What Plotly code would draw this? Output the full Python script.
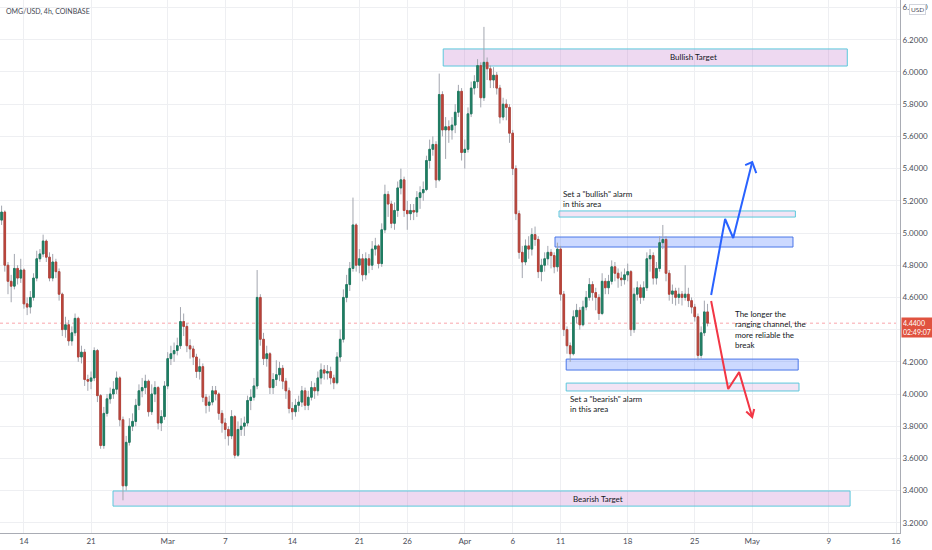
import plotly.graph_objects as go
import pandas as pd

first_open = 5.08
closes = [
    5.13, 4.80, 4.70, 4.67, 4.78, 4.72, 4.77, 4.56, 4.54, 4.60,
    4.72, 4.84, 4.87, 4.95, 4.85, 4.72, 4.82, 4.76, 4.62, 4.40,
    4.43, 4.33, 4.38, 4.47, 4.23, 4.26, 4.09, 4.08, 4.10, 4.27,
    3.99, 3.68, 3.88, 3.97, 4.00, 4.03, 4.10, 3.84, 3.43, 3.70,
    3.80, 3.83, 3.93, 4.02, 4.04, 4.08, 3.89, 4.00, 4.04, 3.82,
    3.86, 4.05, 4.22, 4.25, 4.27, 4.30, 4.45, 4.42, 4.30, 4.28,
    4.23, 4.14, 4.17, 3.98, 3.93, 3.95, 4.02, 4.00, 3.88, 3.82,
    3.78, 3.74, 3.86, 3.62, 3.78, 3.80, 3.82, 3.96, 3.98, 4.05,
    4.60, 4.34, 4.22, 4.25, 4.04, 4.09, 4.12, 4.16, 4.08, 4.02,
    3.91, 3.89, 3.93, 3.95, 4.02, 3.93, 3.98, 4.04, 4.02, 4.10,
    4.15, 4.13, 4.14, 4.10, 4.07, 4.23, 4.34, 4.60, 4.68, 4.78,
    5.05, 4.80, 4.84, 4.74, 4.84, 4.80, 4.90, 4.92, 4.81, 5.02,
    5.24, 5.18, 5.06, 5.14, 5.28, 5.33, 5.14, 5.12, 5.14, 5.13,
    5.22, 5.25, 5.27, 5.45, 5.52, 5.55, 5.33, 5.86, 5.64, 5.66,
    5.64, 5.67, 5.75, 5.88, 5.50, 5.52, 5.74, 5.90, 5.94, 6.04,
    5.84, 6.06, 6.02, 5.95, 5.98, 5.90, 5.72, 5.80, 5.78, 5.62,
    5.40, 5.12, 4.88, 4.82, 4.92, 4.90, 4.99, 4.96, 4.76, 4.80,
    4.84, 4.88, 4.86, 4.79, 4.90, 4.62, 4.40, 4.30, 4.25, 4.48,
    4.52, 4.43, 4.54, 4.60, 4.68, 4.63, 4.60, 4.50, 4.70, 4.66,
    4.70, 4.79, 4.75, 4.72, 4.71, 4.74, 4.76, 4.40, 4.62, 4.66,
    4.60, 4.66, 4.84, 4.86, 4.72, 4.78, 4.94, 4.96, 4.75, 4.62,
    4.64, 4.60, 4.62, 4.60, 4.62, 4.58, 4.54, 4.48, 4.24, 4.38,
    4.51, 4.44,
]
highs = [
    5.17, 5.14, 4.82, 4.74, 4.87, 4.80, 4.84, 4.78, 4.60, 4.64,
    4.75, 4.89, 4.90, 4.99, 4.96, 4.88, 4.87, 4.84, 4.78, 4.63,
    4.48, 4.46, 4.42, 4.50, 4.48, 4.30, 4.28, 4.12, 4.14, 4.29,
    4.28, 4.00, 3.92, 4.00, 4.04, 4.08, 4.14, 4.11, 3.86, 3.74,
    3.85, 3.88, 3.97, 4.06, 4.10, 4.12, 4.09, 4.06, 4.08, 4.05,
    3.90, 4.08, 4.26, 4.30, 4.32, 4.35, 4.54, 4.50, 4.44, 4.34,
    4.30, 4.25, 4.22, 4.19, 4.00, 3.99, 4.05, 4.05, 4.01, 3.90,
    3.85, 3.80, 3.90, 3.87, 3.83, 3.85, 3.86, 3.99, 4.03, 4.10,
    4.77, 4.62, 4.38, 4.30, 4.26, 4.13, 4.21, 4.20, 4.18, 4.10,
    4.04, 3.95, 3.97, 3.99, 4.05, 4.04, 4.02, 4.08, 4.07, 4.14,
    4.19, 4.18, 4.18, 4.17, 4.12, 4.26, 4.40, 4.65, 4.74, 4.82,
    5.22, 5.06, 4.90, 4.87, 4.88, 4.87, 4.95, 4.97, 4.93, 5.06,
    5.30, 5.26, 5.20, 5.19, 5.32, 5.40, 5.35, 5.20, 5.18, 5.18,
    5.26, 5.29, 5.32, 5.48, 5.58, 5.60, 5.57, 5.99, 5.88, 5.72,
    5.70, 5.72, 5.80, 5.92, 5.90, 5.58, 5.78, 5.94, 5.98, 6.08,
    6.06, 6.28, 6.09, 6.04, 6.03, 6.00, 5.92, 5.84, 5.83, 5.80,
    5.64, 5.42, 5.14, 4.92, 4.96, 4.98, 5.03, 5.04, 4.98, 4.84,
    4.88, 4.92, 4.90, 4.88, 4.94, 4.92, 4.64, 4.42, 4.32, 4.52,
    4.56, 4.54, 4.58, 4.64, 4.72, 4.70, 4.66, 4.62, 4.75, 4.72,
    4.74, 4.83, 4.82, 4.78, 4.76, 4.78, 4.81, 4.77, 4.66, 4.70,
    4.68, 4.70, 4.88, 4.90, 4.88, 4.82, 4.98, 5.05, 4.98, 4.77,
    4.68, 4.66, 4.66, 4.64, 4.80, 4.66, 4.60, 4.56, 4.50, 4.42,
    4.58, 4.56,
]
lows = [
    5.05, 4.76, 4.62, 4.57, 4.65, 4.68, 4.69, 4.53, 4.49, 4.50,
    4.58, 4.70, 4.82, 4.85, 4.82, 4.70, 4.70, 4.72, 4.58, 4.36,
    4.35, 4.30, 4.30, 4.36, 4.20, 4.19, 4.05, 4.02, 4.03, 4.08,
    3.95, 3.66, 3.66, 3.86, 3.94, 3.97, 4.00, 3.80, 3.34, 3.40,
    3.68, 3.77, 3.80, 3.90, 3.98, 4.00, 3.86, 3.87, 3.95, 3.78,
    3.77, 3.84, 4.03, 4.18, 4.20, 4.24, 4.28, 4.36, 4.26, 4.22,
    4.18, 4.10, 4.09, 3.95, 3.88, 3.89, 3.93, 3.96, 3.84, 3.76,
    3.72, 3.68, 3.72, 3.60, 3.61, 3.74, 3.74, 3.80, 3.90, 3.96,
    4.03, 4.30, 4.18, 4.17, 4.00, 4.00, 4.05, 4.08, 4.03, 3.97,
    3.88, 3.84, 3.86, 3.89, 3.92, 3.90, 3.90, 3.96, 3.97, 3.99,
    4.06, 4.09, 4.09, 4.06, 4.03, 4.06, 4.20, 4.32, 4.57, 4.64,
    4.76, 4.76, 4.75, 4.70, 4.71, 4.75, 4.77, 4.86, 4.78, 4.79,
    5.00, 5.10, 5.03, 5.02, 5.10, 5.24, 5.10, 5.02, 5.08, 5.08,
    5.10, 5.15, 5.20, 5.26, 5.40, 5.48, 5.28, 5.32, 5.60, 5.46,
    5.56, 5.58, 5.62, 5.72, 5.45, 5.40, 5.50, 5.72, 5.86, 5.90,
    5.78, 5.82, 5.95, 5.90, 5.90, 5.86, 5.68, 5.70, 5.70, 5.56,
    5.36, 5.08, 4.84, 4.72, 4.80, 4.84, 4.86, 4.92, 4.72, 4.70,
    4.76, 4.80, 4.78, 4.75, 4.76, 4.58, 4.36, 4.25, 4.20, 4.24,
    4.44, 4.40, 4.42, 4.52, 4.58, 4.58, 4.52, 4.46, 4.49, 4.62,
    4.62, 4.68, 4.70, 4.66, 4.67, 4.68, 4.70, 4.36, 4.38, 4.58,
    4.56, 4.58, 4.64, 4.76, 4.68, 4.68, 4.76, 4.90, 4.70, 4.58,
    4.56, 4.55, 4.56, 4.55, 4.58, 4.54, 4.50, 4.45, 4.21, 4.22,
    4.36, 4.42,
]

last_price = 4.44
countdown = "02:49:07"

tick_dates = ["2022-02-14", "2022-02-21", "2022-03-01", "2022-03-07", "2022-03-14",
              "2022-03-21", "2022-03-26", "2022-04-01", "2022-04-06", "2022-04-11",
              "2022-04-18", "2022-04-25", "2022-05-01", "2022-05-09", "2022-05-16"]
tick_text = ["14", "21", "Mar", "7", "14", "21", "26", "Apr", "6", "11",
             "18", "25", "May", "9", "16"]
price_ticks = [3.2, 3.4, 3.6, 3.8, 4.0, 4.2, 4.4, 4.6, 4.8, 5.0, 5.2, 5.4, 5.6, 5.8, 6.0, 6.2, 6.4]
# the 4.4 label sits under the last-price badge, so it is left blank
price_text = ["" if abs(p - 4.4) < 1e-9 else f"{p:.4f}" for p in price_ticks]

opens = [first_open] + closes[:-1]
times = pd.date_range("2022-02-11 16:00", periods=len(closes), freq="8h")
body_hi = [max(o, c) for o, c in zip(opens, closes)]
body_lo = [min(o, c) for o, c in zip(opens, closes)]

GREEN = "#1f7d62"
RED = "#b8443a"
WICK = "#a3a6af"
PINK = "rgba(186,104,200,0.25)"
PINK_LIGHT = "rgba(186,104,200,0.18)"
CYAN = "#5cc8dc"
BLUE_FILL = "rgba(41,98,255,0.24)"
BLUE_LINE = "#4a76e8"
TEXT = "#131722"
AXIS_TEXT = "#4a4d57"
FONT = "Lato"

fig = go.Figure()

# wicks (grey)
fig.add_trace(go.Candlestick(
    x=times, open=opens, high=highs, low=lows, close=closes,
    increasing=dict(line=dict(color=WICK, width=1), fillcolor=WICK),
    decreasing=dict(line=dict(color=WICK, width=1), fillcolor=WICK),
    hoverinfo="skip", showlegend=False,
))
# bodies
fig.add_trace(go.Candlestick(
    x=times, open=opens, high=body_hi, low=body_lo, close=closes,
    increasing=dict(line=dict(color=GREEN, width=1), fillcolor=GREEN),
    decreasing=dict(line=dict(color=RED, width=1), fillcolor=RED),
    hoverinfo="skip", showlegend=False,
))

# drawn zones: x0, x1, y0, y1, fill, border
zones = [
    ("2022-03-29 18:00", "2022-05-10 22:00", 6.037, 6.143, PINK, CYAN),
    ("2022-02-23 07:00", "2022-05-11 05:00", 3.304, 3.398, PINK, CYAN),
    ("2022-04-10 10:00", "2022-05-05 06:00", 4.913, 4.975, BLUE_FILL, BLUE_LINE),
    ("2022-04-10 20:00", "2022-05-05 12:00", 5.099, 5.137, PINK_LIGHT, CYAN),
    ("2022-04-11 14:00", "2022-05-05 19:00", 4.149, 4.217, BLUE_FILL, BLUE_LINE),
    ("2022-04-11 14:00", "2022-05-05 21:00", 4.019, 4.068, PINK_LIGHT, CYAN),
]
for x0, x1, y0, y1, fill, border in zones:
    fig.add_shape(type="rect", x0=x0, x1=x1, y0=y0, y1=y1, fillcolor=fill,
                  line=dict(color=border, width=1), layer="between")

# last price line
fig.add_shape(type="line", xref="paper", x0=0, x1=1, y0=last_price, y1=last_price,
              line=dict(color="rgba(242,54,69,0.45)", width=1, dash="dot"), layer="between")

# projected paths
bull_path_x = ["2022-04-26 17:00", "2022-04-28 04:00", "2022-04-29 00:15", "2022-04-30 23:50"]
bull_path_y = [4.615, 5.087, 4.969, 5.441]
bull_head_x = ["2022-04-30 06:15", "2022-04-30 23:50", "2022-05-01 10:00"]
bull_head_y = [5.422, 5.441, 5.372]
bear_path_x = ["2022-04-26 17:00", "2022-04-28 11:45", "2022-04-29 15:10", "2022-04-30 23:50"]
bear_path_y = [4.578, 4.031, 4.136, 3.857]
bear_head_x = ["2022-04-30 08:50", "2022-04-30 23:50", "2022-05-01 04:50"]
bear_head_y = [3.891, 3.857, 3.907]

for px, py, col in [(bull_path_x, bull_path_y, "#2962ff"), (bull_head_x, bull_head_y, "#2962ff"),
                    (bear_path_x, bear_path_y, "#f23645"), (bear_head_x, bear_head_y, "#f23645")]:
    fig.add_trace(go.Scatter(x=px, y=py, mode="lines", line=dict(color=col, width=2),
                             hoverinfo="skip", showlegend=False))

notes = [
    ("2022-04-24 22:00", 6.09, "Bullish Target", "center"),
    ("2022-04-14 22:00", 3.351, "Bearish Target", "center"),
    ("2022-04-11 02:00", 5.214, "Set a \"bullish\" alarm<br>in this area", "left"),
    ("2022-04-11 19:00", 3.938, "Set a \"bearish\" alarm<br>in this area", "left"),
    ("2022-04-29 00:00", 4.40, "The longer the<br>ranging channel, the<br>more reliable the<br>break", "left"),
]
for nx, ny, txt, anchor in notes:
    fig.add_annotation(x=nx, y=ny, text=txt, showarrow=False, xanchor=anchor, yanchor="middle",
                       align="left", font=dict(family=FONT, size=8, color=TEXT))

# header
fig.add_annotation(xref="paper", yref="paper", x=0.004, y=0.979, text="OMG/USD, 4h, COINBASE",
                   showarrow=False, xanchor="left", yanchor="middle",
                   font=dict(family=FONT, size=7, color="#434651"))

# last price label on the axis
fig.add_annotation(xref="paper", x=1.001, y=last_price, yshift=-4,
                   text=f"{last_price:.4f}<br>{countdown}", showarrow=False,
                   xanchor="left", yanchor="middle", align="left",
                   bgcolor="#e0523f", borderpad=1, width=29,
                   font=dict(family=FONT, size=7, color="white"))

# currency badge
fig.add_annotation(xref="paper", yref="paper", x=1.0099, y=0.982, text="USD", showarrow=False,
                   xanchor="left", yanchor="middle", bgcolor="white",
                   bordercolor="#d1d4dc", borderwidth=1, borderpad=1,
                   font=dict(family=FONT, size=6.5, color=AXIS_TEXT))

fig.update_layout(
    width=932, height=550,
    margin=dict(l=0, r=32, t=0, b=17),
    paper_bgcolor="white", plot_bgcolor="white",
    showlegend=False, dragmode=False,
    xaxis=dict(
        range=["2022-02-11 12:00", "2022-05-16 10:00"],
        rangeslider=dict(visible=False),
        tickvals=tick_dates, ticktext=tick_text,
        showgrid=True, gridcolor="#eeeff2", gridwidth=1,
        showline=True, linecolor="#a9acb4", linewidth=1,
        ticks="", tickfont=dict(family=FONT, size=8, color=AXIS_TEXT),
        zeroline=False, automargin=False,
    ),
    yaxis=dict(
        side="right", range=[3.137, 6.447],
        tickvals=price_ticks, ticktext=price_text,
        showgrid=True, gridcolor="#eeeff2", gridwidth=1,
        showline=True, linecolor="#a9acb4", linewidth=1,
        ticks="", tickfont=dict(family=FONT, size=8, color=AXIS_TEXT),
        zeroline=False, automargin=False,
    ),
)

fig.write_html("out.html", config={"displayModeBar": False},
               post_script="document.body.style.margin='0';")
